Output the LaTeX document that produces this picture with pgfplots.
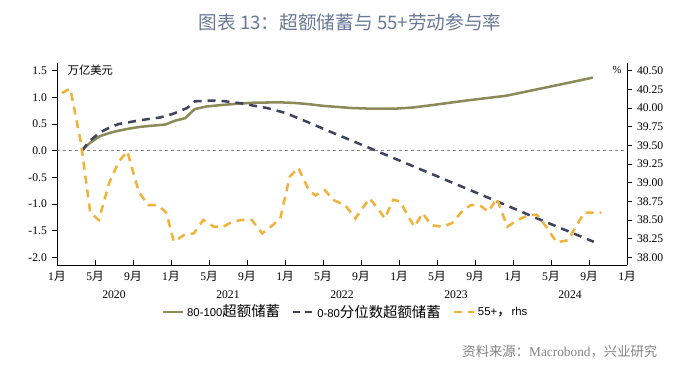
\documentclass[border=0pt]{standalone}
\usepackage{pgfplots}
\pgfplotsset{compat=1.18}
\usepackage{fontspec}
\setmainfont{Liberation Serif}
\setsansfont{Liberation Sans}
\newfontfamily\cjk{Noto Sans CJK SC}
\newcommand{\cjkL}[1]{{\cjk\fontsize{10.8}{11}\selectfont #1}}
\definecolor{olivec}{RGB}{140,138,88}
\definecolor{navyc}{RGB}{62,68,94}
\definecolor{goldc}{RGB}{240,178,60}
\definecolor{titlec}{RGB}{105,120,150}
\definecolor{srcc}{RGB}{130,130,130}

\pgfplotstableread{
m L
2.6 0.0
3.5 0.15
4.5 0.27
5.5 0.33
6.5 0.375
7.5 0.41
8.5 0.44
9.5 0.46
10.5 0.475
11.4 0.49
12.4 0.56
13.5 0.61
14.5 0.78
15.8 0.83
17.0 0.85
18.6 0.875
20.7 0.90
23.5 0.906
25.0 0.895
26.6 0.87
28.0 0.84
29.1 0.825
31.0 0.80
32.6 0.79
35.8 0.79
37.5 0.81
39.6 0.857
43.1 0.94
47.3 1.03
50.8 1.16
53.5 1.26
56.4 1.37
}\topdata

\pgfplotstableread{
m L
2.6 0.0
3.5 0.19
4.5 0.34
5.5 0.43
6.5 0.50
7.5 0.53
8.4 0.56
9.5 0.59
10.8 0.62
12.2 0.69
13.7 0.80
14.5 0.925
16.5 0.94
17.5 0.93
19.3 0.89
20.5 0.85
22.1 0.80
24.0 0.71
26.6 0.52
29.1 0.33
33.7 -0.01
39.6 -0.45
45.9 -0.92
50.8 -1.29
56.5 -1.71
}\lowdata

\pgfplotstableread{
m R
0.5 40.20
1.4 40.26
2.5 39.55
3.5 38.60
4.4 38.50
5.5 39.00
6.5 39.28
7.4 39.42
8.6 38.88
9.6 38.70
10.6 38.70
11.5 38.60
12.3 38.21
13.4 38.30
14.4 38.32
15.4 38.50
16.5 38.41
17.5 38.41
18.5 38.48
19.5 38.50
20.5 38.50
21.6 38.32
22.6 38.42
23.5 38.52
24.5 39.08
25.4 39.20
26.5 38.90
27.2 38.83
28.2 38.90
29.1 38.77
30.4 38.69
31.4 38.52
32.9 38.79
33.8 38.65
34.5 38.52
35.4 38.77
36.1 38.75
37.6 38.41
38.5 38.59
39.4 38.43
40.6 38.41
41.6 38.46
42.8 38.64
43.6 38.70
44.5 38.70
45.4 38.61
46.3 38.79
47.4 38.41
48.5 38.50
49.7 38.57
50.5 38.57
51.5 38.41
52.6 38.20
53.8 38.23
54.8 38.45
55.5 38.60
56.5 38.60
57.3 38.60
}\rhsdata

\begin{document}
\begin{tikzpicture}[x=0.75pt,y=0.75pt]
\path[use as bounding box] (0,0) rectangle (700,375);
\node[text=titlec, font=\cjk\fontsize{14}{16}\selectfont] at (350,353) {图表 13：超额储蓄与 55+劳动参与率};

\begin{axis}[
  scale only axis, width=427.5pt, height=151.7pt,
  at={(42.75pt,82.5pt)}, anchor=south west,
  xmin=0, xmax=60, ymin=-2.145, ymax=1.649,
  axis x line*=bottom, axis y line*=left,
  axis line style={black, line width=0.6pt},
  xtick={0,4,...,60},
  xticklabels={1{\cjk 月},5{\cjk 月},9{\cjk 月},1{\cjk 月},5{\cjk 月},9{\cjk 月},1{\cjk 月},5{\cjk 月},9{\cjk 月},1{\cjk 月},5{\cjk 月},9{\cjk 月},1{\cjk 月},5{\cjk 月},9{\cjk 月},1{\cjk 月}},
  ytick={-2,-1.5,-1,-0.5,0,0.5,1,1.5},
  yticklabel style={/pgf/number format/.cd, fixed, precision=1, fixed zerofill, assume math mode=true},
  major tick length=4pt,
  xtick align=inside,
  ytick align=outside,
  tick style={black, line width=0.6pt},
  tick label style={font=\fontsize{8.75}{10}\selectfont},
  xticklabel style={yshift=-1.5pt},
  clip=false,
]
\draw[srcc, line width=0.6pt, dash pattern=on 2.5pt off 2pt] (axis cs:0,0) -- (axis cs:60,0);
\addplot[olivec, line width=1.9pt] table[x=m,y=L] {\topdata};
\addplot[navyc, line width=1.9pt, dash pattern=on 6pt off 4.5pt] table[x=m,y=L] {\lowdata};
\node[font=\fontsize{8.75}{10}\selectfont, yshift=-22.5pt] at (axis cs:6,-2.145) {2020};
\node[font=\fontsize{8.75}{10}\selectfont, yshift=-22.5pt] at (axis cs:18,-2.145) {2021};
\node[font=\fontsize{8.75}{10}\selectfont, yshift=-22.5pt] at (axis cs:30,-2.145) {2022};
\node[font=\fontsize{8.75}{10}\selectfont, yshift=-22.5pt] at (axis cs:42,-2.145) {2023};
\node[font=\fontsize{8.75}{10}\selectfont, yshift=-22.5pt] at (axis cs:54,-2.145) {2024};
\end{axis}

\begin{axis}[
  scale only axis, width=427.5pt, height=151.7pt,
  at={(42.75pt,82.5pt)}, anchor=south west,
  xmin=0, xmax=60, ymin=37.897, ymax=40.607,
  axis x line=none, axis y line*=right,
  axis line style={black, line width=0.6pt},
  ytick={38,38.25,38.5,38.75,39,39.25,39.5,39.75,40,40.25,40.5},
  yticklabel style={/pgf/number format/.cd, fixed, precision=2, fixed zerofill, assume math mode=true},
  major tick length=4pt,
  ytick align=outside,
  tick style={black, line width=0.6pt},
  tick label style={font=\fontsize{8.75}{10}\selectfont},
  clip=false,
  legend style={at={(0.507,-0.232)}, anchor=center, draw=none, fill=none,
    font=\sffamily\fontsize{8.5}{11}\selectfont, legend columns=3,
    /tikz/every even column/.append style={column sep=7pt}},
  legend image code/.code={\draw[#1] (0pt,0pt) -- (15pt,0pt);},
]
\addlegendimage{olivec, line width=1.9pt}
\addlegendentry{80-100\cjkL{超额储蓄}}
\addlegendimage{navyc, line width=1.9pt, dash pattern=on 5pt off 4pt}
\addlegendentry{0-80\cjkL{分位数超额储蓄}}
\addplot[goldc, line width=1.9pt, dash pattern=on 6pt off 4.5pt] table[x=m,y=R] {\rhsdata};
\addlegendentry{55+\cjkL{，}rhs}
\end{axis}

\node[anchor=west, font=\cjk\fontsize{8.5}{10}\selectfont] at (63,305) {万亿美元};
\node[font=\fontsize{8}{10}\selectfont] at (617,305) {\%};
\node[anchor=east, text=srcc, font=\fontsize{10}{12}\selectfont] at (662,23) {{\cjk 资料来源：}Macrobond{\cjk ，兴业研究}};
\end{tikzpicture}
\end{document}
